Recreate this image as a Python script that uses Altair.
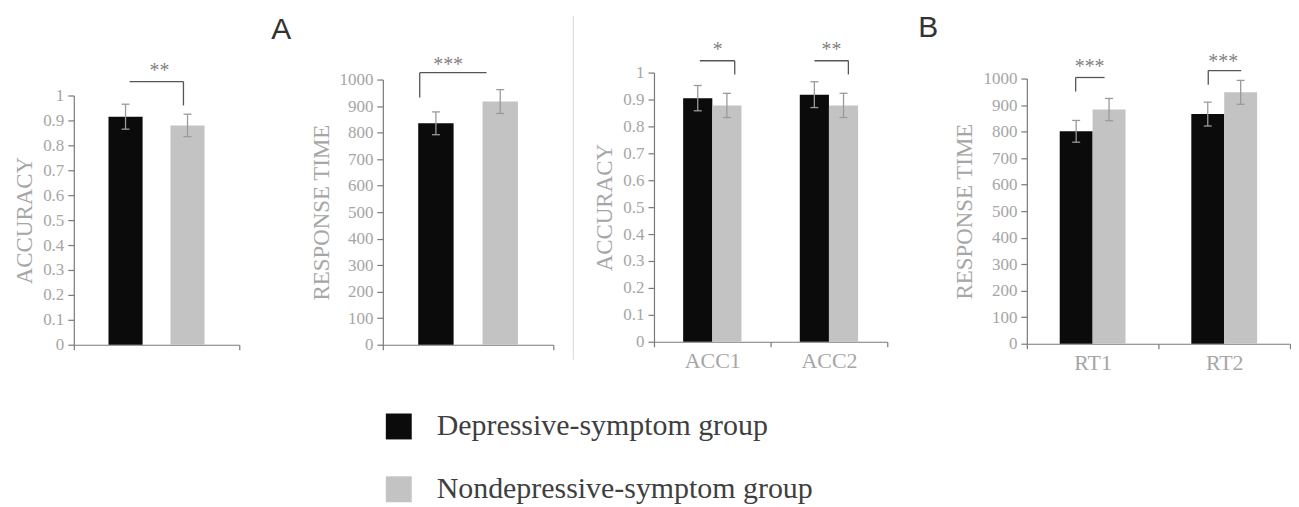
import altair as alt
import pandas as pd

# ---------------- data ----------------
GROUPS = ["Depressive-symptom group", "Nondepressive-symptom group"]
COLORS = ["#0b0b0b", "#c3c3c3"]

# Panel A (left): accuracy
accA_cats = [""]
accA_dep, accA_dep_err = [0.915], [0.050]
accA_non, accA_non_err = [0.880], [0.045]
accA_stars = ["**"]

# Panel A (right): response time
rtA_cats = [""]
rtA_dep, rtA_dep_err = [835], [43]
rtA_non, rtA_non_err = [917], [45]
rtA_stars = ["***"]

# Panel B (left): accuracy by condition
accB_cats = ["ACC1", "ACC2"]
accB_dep, accB_dep_err = [0.905, 0.918], [0.047, 0.048]
accB_non, accB_non_err = [0.878, 0.878], [0.045, 0.045]
accB_stars = ["*", "**"]

# Panel B (right): response time by condition
rtB_cats = ["RT1", "RT2"]
rtB_dep, rtB_dep_err = [801, 866], [41, 45]
rtB_non, rtB_non_err = [883, 948], [42, 45]
rtB_stars = ["***", "***"]

acc_ticks = [0, 0.1, 0.2, 0.3, 0.4, 0.5, 0.6, 0.7, 0.8, 0.9, 1]
rt_ticks = [0, 100, 200, 300, 400, 500, 600, 700, 800, 900, 1000]
PANEL_LABELS = ["A", "B"]

# ---------------- style ----------------
H = 303
SERIF = "Liberation Serif"
AXIS_COL = "#7a7a7a"
LABEL_COL = "#a6a6a6"
ERR_COL = "#9a9a9a"
BR_COL = "#555555"
STAR_COL = "#808080"


def frame(cats, dep, dep_err, non, non_err):
    rows = []
    for c, v, e in zip(cats, dep, dep_err):
        rows.append({"cat": c, "group": GROUPS[0], "value": v, "lo": v - e, "hi": v + e})
    for c, v, e in zip(cats, non, non_err):
        rows.append({"cat": c, "group": GROUPS[1], "value": v, "lo": v - e, "hi": v + e})
    return pd.DataFrame(rows)


legend = alt.Legend(
    title=None, orient="none", legendX=311, legendY=370, direction="vertical",
    symbolType="square", symbolSize=676, symbolStrokeWidth=0,
    labelFont=SERIF, labelFontSize=30, labelColor="#3f3f3f", labelOffset=23,
    rowPadding=33, padding=0, labelLimit=600,
)


def panel(cats, dep, dep_err, non, non_err, stars, brackets, ytitle, yticks, ymax, fmt,
          ylen, shift, xw, pw, pin, pout, show_labels, extras=()):
    df = frame(cats, dep, dep_err, non, non_err)
    yscale = alt.Scale(domain=[0, ymax], range=[H - shift, H - shift - ylen], nice=False, zero=True)
    yaxis = alt.Axis(values=yticks, format=fmt, title=ytitle, grid=False)
    xscale = alt.Scale(domain=cats, range=[0, xw], paddingInner=0, paddingOuter=0)
    xaxis = alt.Axis(title=None, labels=show_labels, tickBand="extent", grid=False,
                     offset=-shift, labelAngle=0)

    def X():
        return alt.X("cat:N", scale=xscale, axis=xaxis)

    def Y(f):
        return alt.Y(f, type="quantitative", scale=yscale, axis=yaxis)

    xo = alt.XOffset("group:N", scale=alt.Scale(domain=GROUPS, paddingInner=pin, paddingOuter=pout))
    color = alt.Color("group:N", scale=alt.Scale(domain=GROUPS, range=COLORS), legend=legend)

    base = alt.Chart(df)
    bars = base.mark_bar().encode(x=X(), xOffset=xo, y=Y("value"), color=color)
    err = base.mark_rule(color=ERR_COL, strokeWidth=1.3).encode(x=X(), xOffset=xo, y=Y("lo"), y2="hi")
    cap_lo = base.mark_tick(color=ERR_COL, size=8, thickness=1.3, opacity=1, orient="horizontal").encode(
        x=X(), xOffset=xo, y=Y("lo"))
    cap_hi = base.mark_tick(color=ERR_COL, size=8, thickness=1.3, opacity=1, orient="horizontal").encode(
        x=X(), xOffset=xo, y=Y("hi"))
    layers = [bars, err, cap_lo, cap_hi]

    for c, s, b in zip(cats, stars, brackets):
        y_h, y_bot, dx_h, w, dx_v, y_s, dx_s = b
        d = pd.DataFrame({"cat": [c], "yh": [y_h], "yb": [y_bot], "ys": [y_s], "stars": [s]})
        cb = alt.Chart(d)
        layers.append(cb.mark_tick(color=BR_COL, size=w, thickness=1.3, opacity=1,
                                   orient="horizontal", xOffset=dx_h).encode(x=X(), y=Y("yh")))
        layers.append(cb.mark_rule(color=BR_COL, strokeWidth=1.3, xOffset=dx_v).encode(
            x=X(), y=Y("yh"), y2="yb"))
        layers.append(cb.mark_text(color=STAR_COL, font=SERIF, fontSize=20, baseline="middle",
                                   align="center", xOffset=dx_s).encode(
            x=X(), y=Y("ys"), text="stars:N"))
    layers.extend(extras)
    return alt.layer(*layers).properties(width=pw, height=H)


one = pd.DataFrame({"k": [0]})
label_A = alt.Chart(one).mark_text(text=PANEL_LABELS[0], font="Liberation Sans", fontSize=30,
                                   color="#333333", align="center", baseline="middle").encode(
    x=alt.value(208), y=alt.value(-13))
label_B = alt.Chart(one).mark_text(text=PANEL_LABELS[1], font="Liberation Sans", fontSize=30,
                                   color="#333333", align="center", baseline="middle").encode(
    x=alt.value(275), y=alt.value(-15))
separator = alt.Chart(one).mark_rule(color="#d6d6d6", strokeWidth=1).encode(
    x=alt.value(191), y=alt.value(-27), y2=alt.value(318))

# bracket geometry: (y of bar, y of leg end, dx of bar, bar width px, dx of leg, y of stars, dx of stars)
p1 = panel(accA_cats, accA_dep, accA_dep_err, accA_non, accA_non_err, accA_stars,
           [(1.056, 0.96, 0, 54, 27, 1.10, 3)],
           "ACCURACY", acc_ticks, 1, ".1~f", 250, 0, 166, 310, 0.45, 0.56, False, [label_A])
p2 = panel(rtA_cats, rtA_dep, rtA_dep_err, rtA_non, rtA_non_err, rtA_stars,
           [(1026, 932, -15, 67, -48.5, 1055, -20)],
           "RESPONSE TIME", rt_ticks, 1000, "d", 266, 0, 171, 272, 0.45, 0.55, False, [separator])
p3 = panel(accB_cats, accB_dep, accB_dep_err, accB_non, accB_non_err, accB_stars,
           [(1.044, 0.993, 5, 35, 22.5, 1.082, 5.5), (1.044, 0.993, 2.5, 34, 19.5, 1.082, 2.5)],
           "ACCURACY", acc_ticks, 1, ".1~f", 270, 3, 234, 374, 0, 1.0, True, [label_B])
p4 = panel(rtB_cats, rtB_dep, rtB_dep_err, rtB_non, rtB_non_err, rtB_stars,
           [(1004, 951, -2.5, 29, -17, 1043, -3), (1030, 977, 0.5, 33, -16, 1062, -1)],
           "RESPONSE TIME", rt_ticks, 1000, "d", 266, 1, 264, 264, 0, 1.0, True)

chart = alt.hconcat(p1, p2, p3, p4, spacing=0, bounds="flush").resolve_scale(
    xOffset="independent"
).properties(
    padding={"left": 5, "top": 4, "right": 0, "bottom": 0}
).configure_view(stroke=None).configure_axis(
    domainColor=AXIS_COL, tickColor=AXIS_COL, domainWidth=1.2, tickWidth=1.2,
    labelFont=SERIF, labelColor=LABEL_COL, titleFont=SERIF, titleColor=LABEL_COL,
    titleFontWeight="normal", titleFontSize=23,
).configure_axisY(
    labelFontSize=17, tickSize=6, labelPadding=4, titlePadding=6,
).configure_axisX(
    labelFontSize=22, tickSize=5, labelPadding=4,
)

chart.save("out.html", embed_options={"renderer": "svg", "actions": False})
